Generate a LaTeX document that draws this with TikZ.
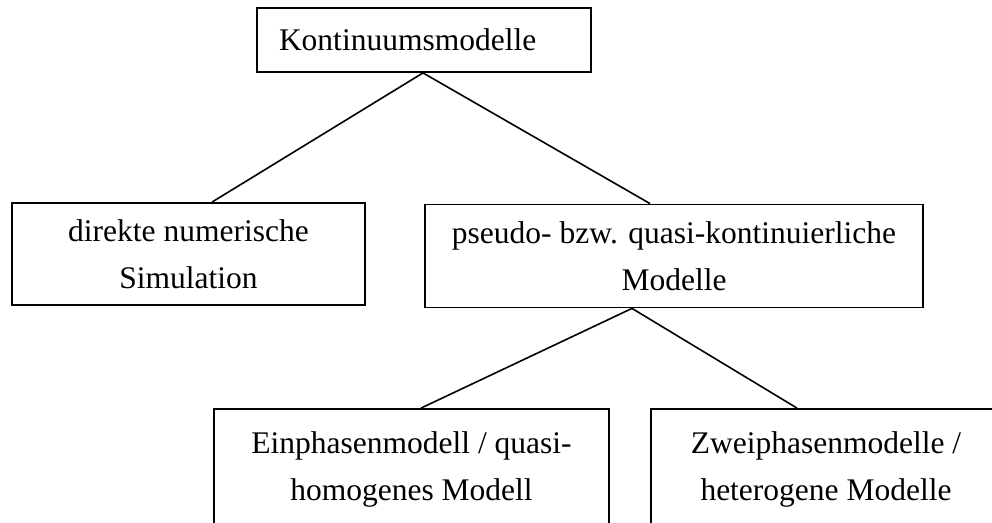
\documentclass[tikz,border=0pt]{standalone}
\usepackage{fontspec}
\setmainfont{Liberation Serif}
\begin{document}
\begin{tikzpicture}[x=1pt,y=-1pt,
  every node/.style={font=\fontsize{31.5}{47.5}\selectfont},
  box/.style={draw=black,line width=1.8pt,rectangle,inner sep=0pt,align=center},
  link/.style={draw=black,line width=1.6pt}]
\useasboundingbox (0,0) rectangle (992,522);
\clip (0,0) rectangle (992,522);
% hierarchy of model classes
\node[box,align=left,text width=290pt,inner xsep=22pt,minimum height=64pt] (top) at (424,40) {Kontinuumsmodelle};
\node[box,minimum width=353pt,minimum height=102pt] (dns) at (188.5,254) {direkte numerische\\Simulation};
\node[box,minimum width=498pt,minimum height=103pt] (pseudo) at (674,256) {pseudo- bzw. quasi-kontinuierliche\\Modelle};
\node[box,minimum width=395pt,minimum height=121pt] (einph) at (411.5,469.5) {Einphasenmodell / quasi-\\homogenes Modell};
\node[box,minimum width=350pt,minimum height=121pt] (zweiph) at (826,469.5) {Zweiphasenmodelle /\\heterogene Modelle};
% connectors
\draw[link] ([xshift=-1pt]top.south) -- ([xshift=23.5pt]dns.north);
\draw[link] ([xshift=-1pt]top.south) -- ([xshift=-24pt]pseudo.north);
\draw[link] ([xshift=-42pt]pseudo.south) -- ([xshift=9.5pt]einph.north);
\draw[link] ([xshift=-42pt]pseudo.south) -- ([xshift=-29pt]zweiph.north);
\end{tikzpicture}
\end{document}
